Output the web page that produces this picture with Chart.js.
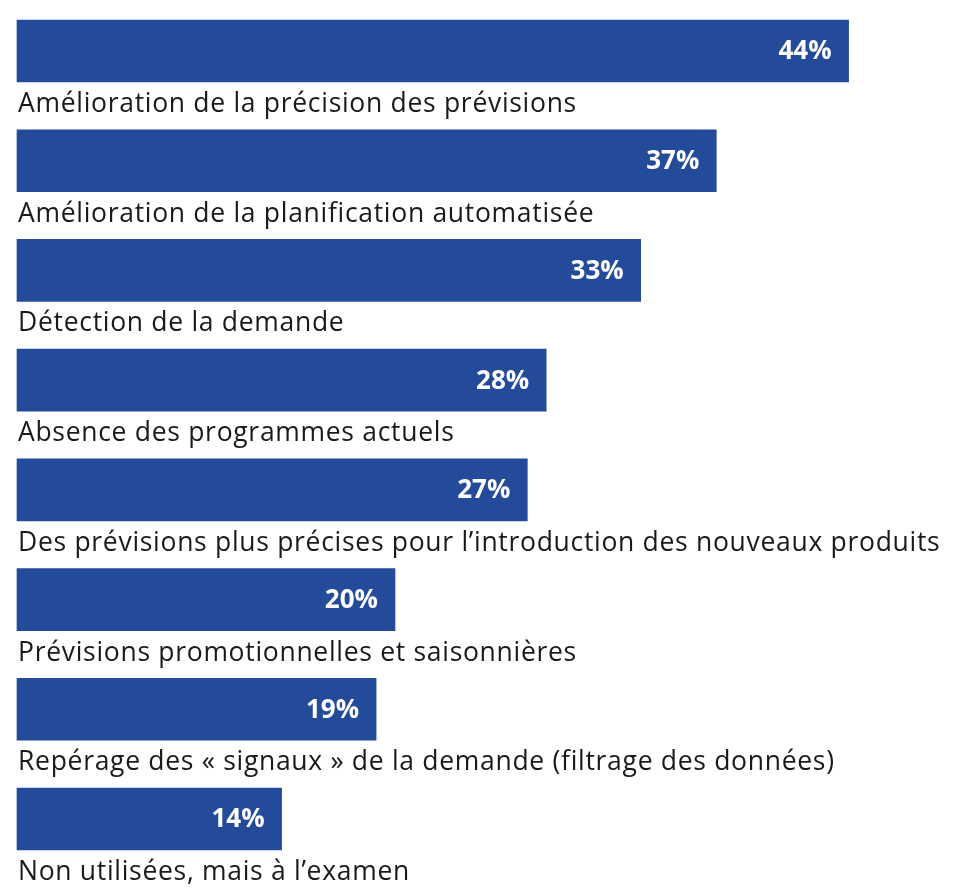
<!DOCTYPE html>
<html>
<head>
<meta charset="utf-8">
<script src="https://cdn.jsdelivr.net/npm/chart.js@4"></script>
<style>
  html, body { margin: 0; padding: 0; background: #fff; }
  #wrap { width: 973px; height: 893px; }
</style>
</head>
<body>
<div id="wrap"><canvas id="chart"></canvas></div>
<script>
const categories = [
  'Amélioration de la précision des prévisions',
  'Amélioration de la planification automatisée',
  'Détection de la demande',
  'Absence des programmes actuels',
  'Des prévisions plus précises pour l\u2019introduction des nouveaux produits',
  'Prévisions promotionnelles et saisonnières',
  'Repérage des « signaux » de la demande (filtrage des données)',
  'Non utilisées, mais à l\u2019examen'
];
const values = [44, 37, 33, 28, 27, 20, 19, 14];

const barColor = '#244b9a';

// texte de catégorie sous chaque barre + valeur dans la barre
const labelPlugin = {
  id: 'barLabels',
  afterDatasetsDraw(chart) {
    const ctx = chart.ctx;
    const meta = chart.getDatasetMeta(0);
    const x0 = chart.scales.x.getPixelForValue(0);
    ctx.save();
    meta.data.forEach((bar, i) => {
      // valeur
      ctx.fillStyle = '#ffffff';
      ctx.font = 'bold 26px "Open Sans"';
      ctx.letterSpacing = '0px';
      ctx.textAlign = 'right';
      ctx.textBaseline = 'middle';
      ctx.fillText(values[i] + '%', bar.x - 17, bar.y + 1);
      // libellé
      ctx.fillStyle = '#1a1a1a';
      ctx.font = '26.5px "Open Sans"';
      ctx.letterSpacing = '0.7px';
      ctx.textAlign = 'left';
      ctx.textBaseline = 'alphabetic';
      ctx.fillText(categories[i], x0 + 1, bar.y + 61);
    });
    ctx.restore();
  }
};

new Chart(document.getElementById('chart'), {
  type: 'bar',
  data: {
    labels: categories,
    datasets: [{
      data: values,
      backgroundColor: barColor,
      borderWidth: 0,
      barThickness: 62,
      clip: false
    }]
  },
  options: {
    indexAxis: 'y',
    responsive: true,
    maintainAspectRatio: false,
    animation: false,
    layout: { padding: { top: 51, bottom: 74, left: 17, right: 11 } },
    plugins: {
      legend: { display: false },
      tooltip: { enabled: false }
    },
    scales: {
      x: { display: false, min: 0, max: 50 },
      y: { display: false, offset: false }
    }
  },
  plugins: [labelPlugin]
});
</script>
</body>
</html>
